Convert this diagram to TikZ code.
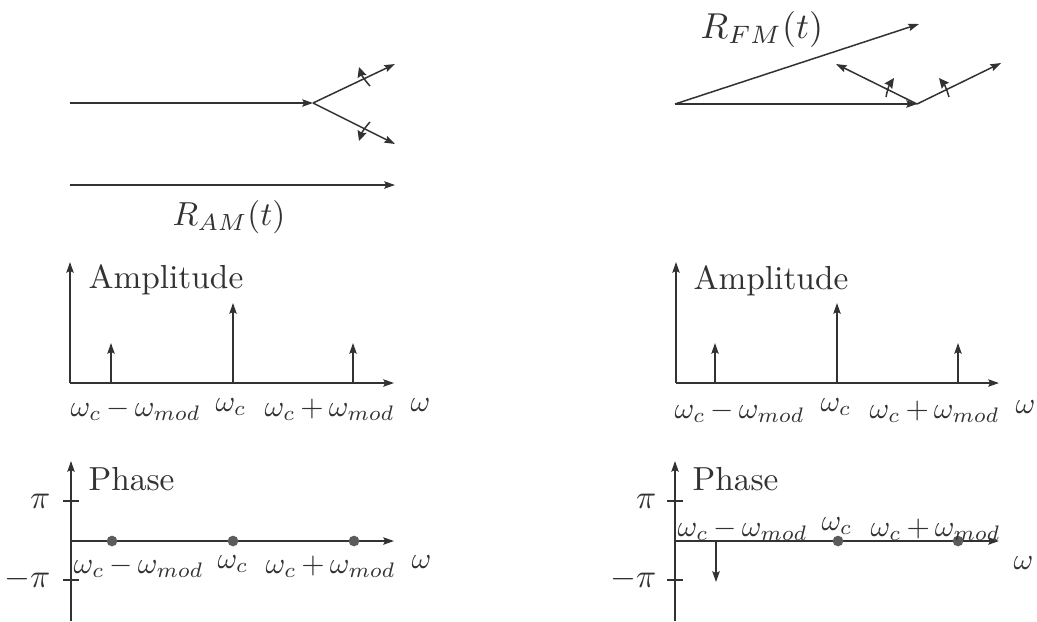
\documentclass[tikz,border=0pt]{standalone}
\usetikzlibrary{arrows.meta}
\definecolor{ink}{RGB}{50,50,50}
\begin{document}
\begin{tikzpicture}[x=0.3pt,y=-0.3pt,
  ln/.style={draw=ink,line width=0.45pt},
  arr/.style={ln,-{Stealth[length=3.2pt,width=2.2pt,inset=0.5pt]}},
  rot/.style={ln,-{Stealth[length=3pt,width=2.8pt,inset=0.4pt]}},
  txt/.style={text=ink,inner sep=0pt,font=\normalsize},
  lab/.style={txt,scale=0.9,execute at begin node={\medmuskip=3mu}},
  dot/.style={circle,fill=ink!80,inner sep=0pt,minimum size=3.2pt},
  tick/.style={ln}]
\useasboundingbox (0,0) rectangle (1037,621);

% ---------------- AM phasor diagram ----------------
\coordinate (a0) at (70,103);
\coordinate (aj) at (313,103);
\coordinate (au) at (395,64);
\coordinate (ad) at (395,144);
\draw[arr] (a0) -- (aj);
\draw[arr] (aj) -- (au);
\draw[arr] (aj) -- (ad);
\coordinate (mu1) at (370,86);
\coordinate (mu2) at (359,67);
\draw[rot] (mu1) to[bend left=12] (mu2);
\coordinate (md1) at (370,122);
\coordinate (md2) at (359,141);
\draw[rot] (md1) to[bend right=12] (md2);

\coordinate (r0) at (70,185);
\coordinate (r1) at (395,185);
\draw[arr] (r0) -- (r1);
\node[txt,anchor=base] (ram) at (229,225) {$R_{AM}(t)$};

% ---------------- FM phasor diagram ----------------
\coordinate (f0) at (675,104);
\coordinate (fj) at (917,104);
\coordinate (ft) at (919,24);
\coordinate (fl) at (836,64);
\coordinate (fr) at (1001,63);
\draw[arr] (f0) -- (ft);
\draw[arr] (f0) -- (fj);
\draw[arr] (fj) -- (fl);
\draw[arr] (fj) -- (fr);
\coordinate (ml1) at (886,97);
\coordinate (ml2) at (894,78);
\draw[rot] (ml1) to[bend left=12] (ml2);
\coordinate (mr1) at (949,97);
\coordinate (mr2) at (939,78);
\draw[rot] (mr1) to[bend right=12] (mr2);
\node[txt,anchor=base west,scale=1.08] (rfm) at (700,38) {$R_{FM}(t)$};

% ---------------- AM amplitude ----------------
\coordinate (A0) at (70,383);
\coordinate (Ay) at (70,262);
\coordinate (Ax) at (394,383);
\draw[arr] (A0) -- (Ay);
\draw[arr] (A0) -- (Ax);
\node[txt,anchor=base west] (Atit) at (88,288) {Amplitude};
\coordinate (s1) at (111,383); \coordinate (s1t) at (111,343);
\coordinate (s2) at (233,383); \coordinate (s2t) at (233,303);
\coordinate (s3) at (353,383); \coordinate (s3t) at (353,343);
\draw[arr] (s1) -- (s1t);
\draw[arr] (s2) -- (s2t);
\draw[arr] (s3) -- (s3t);
\node[lab,anchor=base west] (Al1) at (70,416) {$\omega_c-\omega_{mod}$};
\node[lab,anchor=base] (Al2) at (231,411) {$\omega_c$};
\node[lab,anchor=base west] (Al3) at (264,416) {$\omega_c+\omega_{mod}$};
\node[lab,anchor=base west] (Al4) at (410,411) {$\omega$};

% ---------------- FM amplitude ----------------
\coordinate (B0) at (676,383);
\coordinate (By) at (676,262);
\coordinate (Bx) at (999,383);
\draw[arr] (B0) -- (By);
\draw[arr] (B0) -- (Bx);
\node[txt,anchor=base west] (Btit) at (693,289) {Amplitude};
\coordinate (t1) at (715,383); \coordinate (t1t) at (715,343);
\coordinate (t2) at (837,383); \coordinate (t2t) at (837,303);
\coordinate (t3) at (958,383); \coordinate (t3t) at (958,343);
\draw[arr] (t1) -- (t1t);
\draw[arr] (t2) -- (t2t);
\draw[arr] (t3) -- (t3t);
\node[lab,anchor=base west] (Bl1) at (674,418) {$\omega_c-\omega_{mod}$};
\node[lab,anchor=base] (Bl2) at (836,411) {$\omega_c$};
\node[lab,anchor=base west] (Bl3) at (869,418) {$\omega_c+\omega_{mod}$};
\node[lab,anchor=base west] (Bl4) at (1015,413) {$\omega$};

% ---------------- AM phase ----------------
\coordinate (C0) at (71,621);
\coordinate (Cy) at (71,461);
\coordinate (Cz) at (71,541);
\coordinate (Cx) at (394,541);
\draw[arr] (C0) -- (Cy);
\draw[arr] (Cz) -- (Cx);
\node[txt,anchor=base west] (Ctit) at (88,490) {Phase};
\draw[tick] (63,501) -- (79,501);
\draw[tick] (63,580) -- (79,580);
\node[txt,anchor=east] (Cpi) at (51,501) {$\pi$};
\node[txt,anchor=east] (Cmpi) at (51,579) {$-\pi$};
\node[dot] (c1) at (112,541) {};
\node[dot] (c2) at (233,541) {};
\node[dot] (c3) at (354,541) {};
\node[lab,anchor=base west] (Cl1) at (73,573) {$\omega_c-\omega_{mod}$};
\node[lab,anchor=base] (Cl2) at (233,568) {$\omega_c$};
\node[lab,anchor=base west] (Cl3) at (265,573) {$\omega_c+\omega_{mod}$};
\node[lab,anchor=base west] (Cl4) at (411,568) {$\omega$};

% ---------------- FM phase ----------------
\coordinate (D0) at (675,621);
\coordinate (Dy) at (675,461);
\coordinate (Dz) at (675,541);
\coordinate (Dx) at (999,541);
\draw[arr] (D0) -- (Dy);
\draw[arr] (Dz) -- (Dx);
\node[txt,anchor=base west] (Dtit) at (692,490) {Phase};
\draw[tick] (667,501) -- (683,501);
\draw[tick] (667,580) -- (683,580);
\node[txt,anchor=east] (Dpi) at (657,501) {$\pi$};
\node[txt,anchor=east] (Dmpi) at (657,579) {$-\pi$};
\coordinate (d1) at (716,541);
\coordinate (d1t) at (716,582);
\draw[arr] (d1) -- (d1t);
\node[dot] (d2) at (838,541) {};
\node[dot] (d3) at (958,541) {};
\node[lab,anchor=base west] (Dl1) at (677,536) {$\omega_c-\omega_{mod}$};
\node[lab,anchor=base] (Dl2) at (837,530) {$\omega_c$};
\node[lab,anchor=base west] (Dl3) at (870,536) {$\omega_c+\omega_{mod}$};
\node[lab,anchor=base west] (Dl4) at (1013,569) {$\omega$};
\end{tikzpicture}
\end{document}
